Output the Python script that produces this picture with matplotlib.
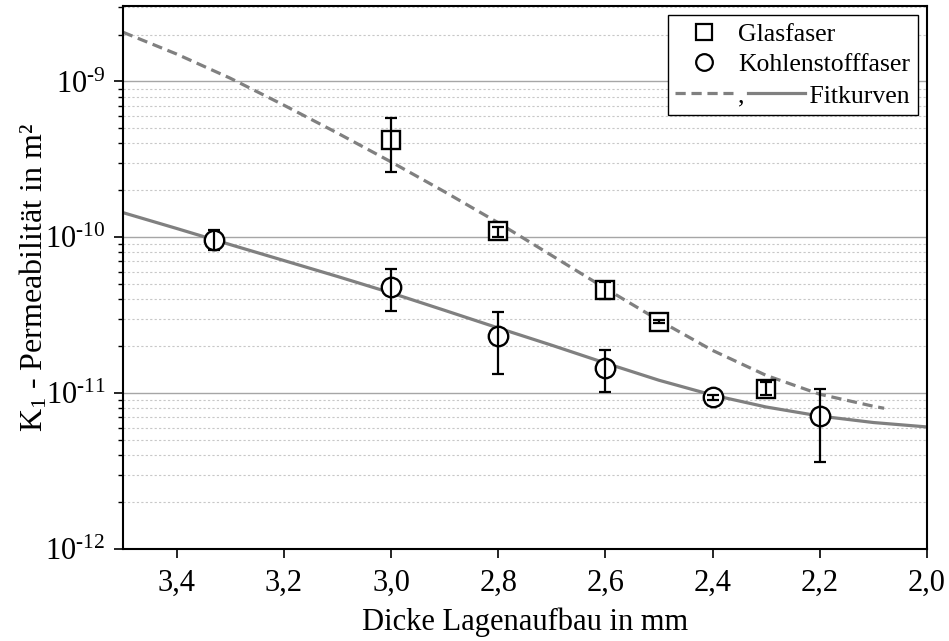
import matplotlib
matplotlib.use("Agg")
import matplotlib.pyplot as plt
from matplotlib.lines import Line2D
from matplotlib.legend_handler import HandlerBase
from matplotlib.ticker import FixedLocator, FixedFormatter, FuncFormatter, NullFormatter
import numpy as np

plt.rcParams['font.family'] = ['Liberation Serif', 'DejaVu Serif']
plt.rcParams['mathtext.fontset'] = 'custom'
plt.rcParams['mathtext.rm'] = 'Liberation Serif'
plt.rcParams['mathtext.it'] = 'Liberation Serif:italic'
plt.rcParams['mathtext.bf'] = 'Liberation Serif:bold'

# ---------------- data ----------------
glas_x = [3.0, 2.8, 2.6, 2.5, 2.3]
glas_y = [4.23e-10, 1.09e-10, 4.56e-11, 2.88e-11, 1.07e-11]
glas_lo = [2.62e-10, 1.01e-10, 4.0e-11, 2.82e-11, 9.7e-12]
glas_hi = [5.85e-10, 1.17e-10, 5.2e-11, 2.94e-11, 1.18e-11]

kohle_x = [3.33, 3.0, 2.8, 2.6, 2.4, 2.2]
kohle_y = [9.57e-11, 4.82e-11, 2.33e-11, 1.46e-11, 9.38e-12, 7.16e-12]
kohle_lo = [8.26e-11, 3.37e-11, 1.32e-11, 1.02e-11, 9.1e-12, 3.63e-12]
kohle_hi = [1.11e-10, 6.24e-11, 3.31e-11, 1.88e-11, 9.7e-12, 1.07e-11]

fit_glas_x = [3.5, 3.4, 3.3, 3.2, 3.1, 3.0, 2.9, 2.8, 2.7, 2.6, 2.5, 2.4, 2.3, 2.2, 2.1, 2.08]
fit_glas_y = [2.07e-9, 1.50e-9, 1.05e-9, 7.05e-10, 4.67e-10, 3.05e-10, 1.96e-10, 1.24e-10,
              7.64e-11, 4.70e-11, 2.93e-11, 1.88e-11, 1.30e-11, 9.84e-12, 8.24e-12, 8.0e-12]

fit_kohle_x = [3.5, 3.4, 3.3, 3.2, 3.1, 3.0, 2.9, 2.8, 2.7, 2.6, 2.5, 2.4, 2.3, 2.2, 2.1, 2.0]
fit_kohle_y = [1.44e-10, 1.14e-10, 8.98e-11, 7.1e-11, 5.61e-11, 4.40e-11, 3.40e-11, 2.62e-11,
               2.03e-11, 1.56e-11, 1.21e-11, 9.72e-12, 8.15e-12, 7.13e-12, 6.48e-12, 6.07e-12]

x_ticks = [3.4, 3.2, 3.0, 2.8, 2.6, 2.4, 2.2, 2.0]
x_ticklabels = ["3,4", "3,2", "3,0", "2,8", "2,6", "2,4", "2,2", "2,0"]
y_exponents = [-12, -11, -10, -9]

labels = ["Glasfaser", "Kohlenstofffaser", "Fitkurven"]
xlabel = "Dicke Lagenaufbau in mm"
ylabel = "K$_1$ - Permeabilität in m²"

# ---------------- style ----------------
FIT_COLOR = "#808080"
FS = 22
LEG_FS = 18.5

fig = plt.figure(figsize=(9.49, 6.41), dpi=100)
ax = fig.add_axes([123/949, 1-549/641, (927-123)/949, (549-6)/641])

ax.set_yscale('log')
ax.set_xlim(3.5, 2.0)
ax.set_ylim(1e-12, 3.05e-9)

# y ticks / grid (only inside the visible range)
y_major = [10.0 ** e for e in y_exponents]
y_minor = [m * 10.0 ** e for e in y_exponents for m in range(2, 10) if m * 10.0 ** e <= 3.05e-9]
ax.yaxis.set_major_locator(FixedLocator(y_major))
ax.yaxis.set_minor_locator(FixedLocator(y_minor))


def log_fmt(v, pos):
    e = int(round(np.log10(v)))
    if e < 0:
        return r'$\mathdefault{10^{\text{-}%d}}$' % (-e)
    return r'$\mathdefault{10^{%d}}$' % e


ax.yaxis.set_major_formatter(FuncFormatter(log_fmt))
ax.yaxis.set_minor_formatter(NullFormatter())
ax.grid(True, which='major', axis='y', color='#a6a6a6', lw=1.0, ls='-', zorder=0)
ax.grid(True, which='minor', axis='y', color='#c8c8c8', lw=0.8, ls=(0, (2, 2)), zorder=0)
ax.set_axisbelow(True)

ax.xaxis.set_major_locator(FixedLocator(x_ticks))
ax.xaxis.set_major_formatter(FixedFormatter(x_ticklabels))

# fit curves
ax.plot(fit_glas_x, fit_glas_y, color=FIT_COLOR, lw=2.3, ls=(0, (3.2, 1.8)), zorder=2)
ax.plot(fit_kohle_x, fit_kohle_y, color=FIT_COLOR, lw=2.3, ls='-', zorder=2)

# markers
ax.plot(glas_x, glas_y, ls='none', marker='s', ms=13, mfc='white', mec='black', mew=1.7, zorder=3)
ax.plot(kohle_x, kohle_y, ls='none', marker='o', ms=14, mfc='white', mec='black', mew=1.7, zorder=3)

# error bars on top
g_err = [[y - lo for y, lo in zip(glas_y, glas_lo)], [hi - y for y, hi in zip(glas_y, glas_hi)]]
k_err = [[y - lo for y, lo in zip(kohle_y, kohle_lo)], [hi - y for y, hi in zip(kohle_y, kohle_hi)]]
ax.errorbar(glas_x, glas_y, yerr=g_err, fmt='none', ecolor='black', elinewidth=1.6,
            capsize=4.5, capthick=1.6, zorder=4)
ax.errorbar(kohle_x, kohle_y, yerr=k_err, fmt='none', ecolor='black', elinewidth=1.6,
            capsize=4.5, capthick=1.6, zorder=4)

# axes styling
for s in ax.spines.values():
    s.set_linewidth(1.5)
    s.set_color('black')
ax.tick_params(axis='both', which='major', direction='out', length=6.5, width=1.2,
               labelsize=FS, color='black')
ax.tick_params(axis='x', which='major', pad=8)
ax.tick_params(axis='y', which='major', pad=6)
ax.tick_params(axis='y', which='minor', direction='out', length=3.8, width=1.0)
ax.tick_params(axis='x', which='minor', bottom=False)

ax.set_xlabel(xlabel, fontsize=FS, labelpad=7)
ax.set_ylabel(ylabel, fontsize=23, labelpad=-3)


# legend third entry: dashed line in the handle box, then label ",  ...  Fitkurven"
# with the solid line drawn in the gap of blank spaces after the comma
class FitHandler(HandlerBase):
    def create_artists(self, legend, orig_handle, xdescent, ydescent, width, height,
                       fontsize, trans):
        px = 72.0 / 100.0
        x0 = -xdescent
        y = (height - ydescent) / 2.0
        l1 = Line2D([x0, x0 + width], [y, y], color=FIT_COLOR, lw=2.3, ls=(0, (3.2, 1.8)))
        l1.set_transform(trans)
        l2 = Line2D([x0 + 73 * px, x0 + 130 * px], [y, y], color=FIT_COLOR, lw=2.3, ls='-')
        l2.set_transform(trans)
        return [l1, l2]


h1 = Line2D([], [], ls='none', marker='s', ms=11.5, mfc='white', mec='black', mew=1.6)
h2 = Line2D([], [], ls='none', marker='o', ms=12, mfc='white', mec='black', mew=1.6)
h3 = object()
leg = ax.legend([h1, h2, h3], [labels[0], labels[1], "," + " " * 10 + labels[2]],
                handler_map={object: FitHandler()},
                loc='upper right', fontsize=LEG_FS, frameon=True, fancybox=False,
                edgecolor='black', framealpha=1, borderpad=0.3, labelspacing=0.3,
                handlelength=2.25, handletextpad=0.2, borderaxespad=0.35)
leg.get_frame().set_linewidth(1.0)

fig.savefig("out.png", dpi=100)
